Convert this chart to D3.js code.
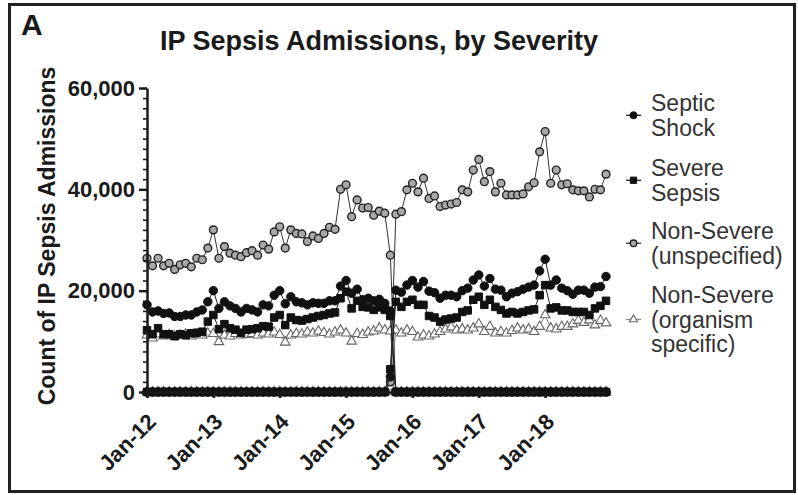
<!DOCTYPE html>
<html>
<head>
<meta charset="utf-8">
<script src="https://cdn.jsdelivr.net/npm/d3@7"></script>
<style>
  html, body { margin: 0; padding: 0; background: #fff; }
  svg { display: block; }
</style>
</head>
<body>
<div id="chart"></div>
<script>
// ── Data (thousands of admissions, monthly Jan-12 .. Dec-18) ──
const tickLabels = ['Jan-12', 'Jan-13', 'Jan-14', 'Jan-15', 'Jan-16', 'Jan-17', 'Jan-18'];
const tickMonths = [0, 12, 24, 36, 48, 60, 72];

// month index of Sep-15, the last ICD-9 month
const lastIcd9 = 44;

const septicShock = [
  17.2, 15.8, 16.0, 15.5, 15.6, 14.9, 14.9, 15.2, 15.2, 15.8, 16.2, 17.8,
  20.0, 16.5, 17.8, 17.0, 16.5, 15.8, 16.5, 16.2, 15.8, 17.2, 17.0, 19.1,
  20.0, 17.4, 18.8, 17.8, 17.6, 17.2, 17.6, 17.5, 17.5, 18.0, 18.0, 20.9,
  22.0, 19.5, 20.3, 18.2, 18.5, 18.0, 18.3, 17.5, 16.0, 20.1, 19.7, 21.1,
  22.0, 20.7, 21.8, 19.9, 19.6, 18.5, 19.1, 19.1, 18.8, 20.0, 20.5, 22.1,
  23.1, 20.9, 22.4, 20.3, 20.1, 18.8, 19.5, 19.8, 20.3, 20.7, 21.1, 23.9,
  26.2, 21.1, 22.1, 20.5, 20.0, 19.3, 20.1, 20.1, 19.5, 20.7, 20.8, 22.8
];
const severeSepsis = [
  12.2, 11.4, 12.6, 11.4, 11.4, 11.0, 11.4, 11.2, 11.6, 11.7, 11.9, 13.9,
  15.2, 12.4, 13.4, 12.6, 12.3, 11.7, 12.3, 12.4, 12.6, 13.0, 12.9, 14.7,
  15.2, 13.2, 14.7, 14.2, 14.1, 14.4, 14.7, 15.0, 15.2, 15.5, 15.7, 18.5,
  19.8, 16.5, 18.0, 16.8, 16.7, 16.2, 16.7, 16.2, 15.0, 17.8, 16.8, 17.8,
  18.2, 17.2, 17.2, 15.0, 14.7, 13.9, 14.3, 14.5, 14.7, 15.8, 16.1, 18.2,
  18.8, 17.2, 18.2, 16.8, 16.2, 15.5, 15.8, 15.5, 15.8, 16.1, 16.3, 19.1,
  21.1, 16.5, 16.7, 16.1, 16.1, 15.8, 15.8, 15.8, 15.2, 16.5, 17.0, 18.0
];
const nonSevereUnspecified = [
  26.4, 24.9, 26.4, 24.9, 25.4, 24.2, 25.1, 25.4, 24.7, 26.4, 26.1, 28.4,
  32.0, 26.4, 28.7, 27.4, 27.0, 26.7, 27.5, 27.9, 27.0, 29.0, 28.2, 31.6,
  32.6, 28.4, 32.0, 31.3, 31.2, 29.7, 30.8, 30.3, 31.3, 32.5, 32.1, 40.0,
  40.9, 34.6, 37.9, 36.3, 36.4, 34.9, 35.7, 35.3, 27.0, 35.1, 35.6, 39.9,
  41.2, 39.5, 42.2, 38.2, 38.7, 36.6, 36.9, 37.1, 37.4, 39.9, 39.5, 43.8,
  45.9, 41.5, 43.5, 39.5, 41.2, 38.9, 38.9, 38.9, 39.1, 40.5, 41.3, 47.4,
  51.4, 41.2, 43.8, 40.9, 41.1, 39.9, 39.7, 39.7, 38.5, 40.0, 39.9, 43.0
];
const nonSevereOrganism = [
  11.2, 10.6, 11.4, 11.0, 11.3, 11.0, 11.2, 11.4, 11.0, 11.3, 11.2, 11.6,
  11.5,  9.9, 11.2, 11.0, 11.5, 11.2, 11.3, 11.5, 11.2, 11.6, 11.4, 11.8,
  11.3,  9.8, 11.2, 11.5, 11.4, 11.8, 11.6, 12.0, 11.7, 11.4, 11.8, 12.2,
  11.6, 10.0, 11.5, 11.3, 11.8, 12.0, 12.6, 12.2, 12.0, 12.2, 11.6, 12.2,
  11.9, 10.8, 11.2, 11.0, 11.4, 11.9, 12.4, 12.8, 12.2, 12.4, 12.2, 12.6,
  13.4, 11.9, 12.9, 11.6, 11.9, 11.6, 12.1, 12.6, 12.2, 12.4, 11.9, 12.9,
  15.2, 12.6, 12.4, 12.9, 12.9, 13.4, 14.1, 13.7, 14.2, 13.2, 14.1, 13.6
];
// ICD-10 counts already present in Sep-15 (the transition month)
const icd10Sep15 = [3.0, 4.5, 2.0, 1.0];

const seriesNames = [
  ['Septic', 'Shock'],
  ['Severe', 'Sepsis'],
  ['Non-Severe', '(unspecified)'],
  ['Non-Severe', '(organism', 'specific)']
];

(function () {
  'use strict';

  const W = 798, H = 495;
  const FONT = "'Liberation Sans', Arial, Helvetica, sans-serif";
  const INK = '#1a1a1a';

  const values = [septicShock, severeSepsis, nonSevereUnspecified, nonSevereOrganism];
  const markers = [
    { type: d3.symbolCircle, size: 56, fill: '#111', stroke: '#111', sw: 1, line: '#222' },
    { type: d3.symbolSquare, size: 56, fill: '#111', stroke: '#111', sw: 1, line: '#222' },
    { type: d3.symbolCircle, size: 48, fill: '#a8a8a8', stroke: '#222', sw: 1.4, line: '#333' },
    { type: d3.symbolTriangle, size: 40, fill: '#fff', stroke: '#666', sw: 1.1, line: '#888' }
  ];

  const svg = d3.select('#chart').append('svg')
    .attr('width', W).attr('height', H);

  // ── frame + panel letter ──
  svg.append('rect')
    .attr('x', 9.5).attr('y', 4.5).attr('width', 785).attr('height', 487)
    .attr('fill', 'none').attr('stroke', '#222').attr('stroke-width', 3);

  svg.append('text')
    .attr('x', 21).attr('y', 35)
    .style('font-family', FONT).style('font-size', '30px').style('font-weight', 'bold')
    .style('fill', INK).text('A');

  svg.append('text')
    .attr('x', 379).attr('y', 50).attr('text-anchor', 'middle')
    .style('font-family', FONT).style('font-size', '27px').style('font-weight', 'bold')
    .style('fill', INK).text('IP Sepsis Admissions, by Severity');

  // ── scales ──
  const x = d3.scaleLinear().domain([0, 83]).range([147, 606]);
  const y = d3.scaleLinear().domain([0, 60]).range([392, 88]);

  // ── split each series into its ICD-9 and ICD-10 runs (zeros elsewhere) ──
  const runs = [];
  values.forEach((vals, s) => {
    const icd9 = vals.map((v, i) => ({ i, v: i <= lastIcd9 ? v : 0 }));
    const icd10 = vals.map((v, i) => ({
      i, v: i < lastIcd9 ? 0 : (i === lastIcd9 ? icd10Sep15[s] : v)
    }));
    runs.push({ s, pts: icd10 });
    runs.push({ s, pts: icd9 });
  });

  const line = d3.line().x(d => x(d.i)).y(d => y(d.v));
  const plot = svg.append('g');

  // draw order: triangles, open circles, filled circles, squares on top
  [3, 2, 0, 1].forEach(s => {
    const m = markers[s];
    runs.filter(r => r.s === s).forEach(r => {
      plot.append('path')
        .attr('d', line(r.pts))
        .attr('fill', 'none')
        .attr('stroke', m.line)
        .attr('stroke-width', 1);
      plot.selectAll(null)
        .data(r.pts)
        .enter()
        .append('path')
        .attr('transform', d => `translate(${x(d.i)},${y(d.v)})`)
        .attr('d', d3.symbol().type(m.type).size(m.size))
        .attr('fill', m.fill)
        .attr('stroke', m.stroke)
        .attr('stroke-width', m.sw);
    });
  });

  // ── y axis: major + minor ticks ──
  const yMinor = svg.append('g')
    .attr('transform', 'translate(147,0)')
    .call(d3.axisLeft(y).tickValues(d3.range(0, 61, 2)).tickSize(4).tickFormat(''));
  yMinor.select('.domain').remove();

  const yAxis = svg.append('g')
    .attr('transform', 'translate(147,0)')
    .call(d3.axisLeft(y).tickValues([0, 20, 40, 60]).tickSize(8).tickPadding(4)
      .tickSizeOuter(0)
      .tickFormat(d => d3.format(',')(d * 1000)));

  yAxis.selectAll('text')
    .style('font-family', FONT).style('font-size', '22px').style('font-weight', 'bold')
    .style('fill', INK);

  // ── x axis ──
  const xAxis = svg.append('g')
    .attr('transform', 'translate(0,392)')
    .call(d3.axisBottom(x).tickValues(tickMonths).tickSize(6).tickSizeOuter(0)
      .tickFormat((d, i) => tickLabels[i]));

  xAxis.selectAll('text')
    .attr('text-anchor', 'end')
    .attr('dy', null)
    .attr('y', 0)
    .attr('transform', 'translate(10,31) rotate(-45)')
    .style('font-family', FONT).style('font-size', '22px').style('font-weight', 'bold')
    .style('fill', INK);

  svg.selectAll('.domain, .tick line')
    .attr('stroke', INK).attr('stroke-width', 2.5);
  yMinor.selectAll('.tick line').attr('stroke-width', 1.6);

  // ── y axis title ──
  svg.append('text')
    .attr('transform', 'translate(55,236) rotate(-90)')
    .attr('text-anchor', 'middle')
    .style('font-family', FONT).style('font-size', '23px').style('font-weight', 'bold')
    .style('fill', INK).text('Count of IP Sepsis Admissions');

  // ── legend ──
  const legendTop = [111, 176, 239, 303];
  const lineH = 24.5;
  const legend = svg.append('g');

  seriesNames.forEach((lines, s) => {
    const m = markers[s];
    const cy = legendTop[s] - 8 + (lines.length - 1) * lineH / 2;

    legend.append('line')
      .attr('x1', 626).attr('x2', 641).attr('y1', cy).attr('y2', cy)
      .attr('stroke', m.line).attr('stroke-width', 1.3);
    legend.append('path')
      .attr('transform', `translate(633.5,${cy})`)
      .attr('d', d3.symbol().type(m.type).size(m.size * 0.7))
      .attr('fill', m.fill).attr('stroke', m.stroke).attr('stroke-width', m.sw);

    lines.forEach((t, k) => {
      legend.append('text')
        .attr('x', 651).attr('y', legendTop[s] + k * lineH)
        .style('font-family', FONT).style('font-size', '23px')
        .style('fill', '#333').text(t);
    });
  });
})();
</script>
</body>
</html>
